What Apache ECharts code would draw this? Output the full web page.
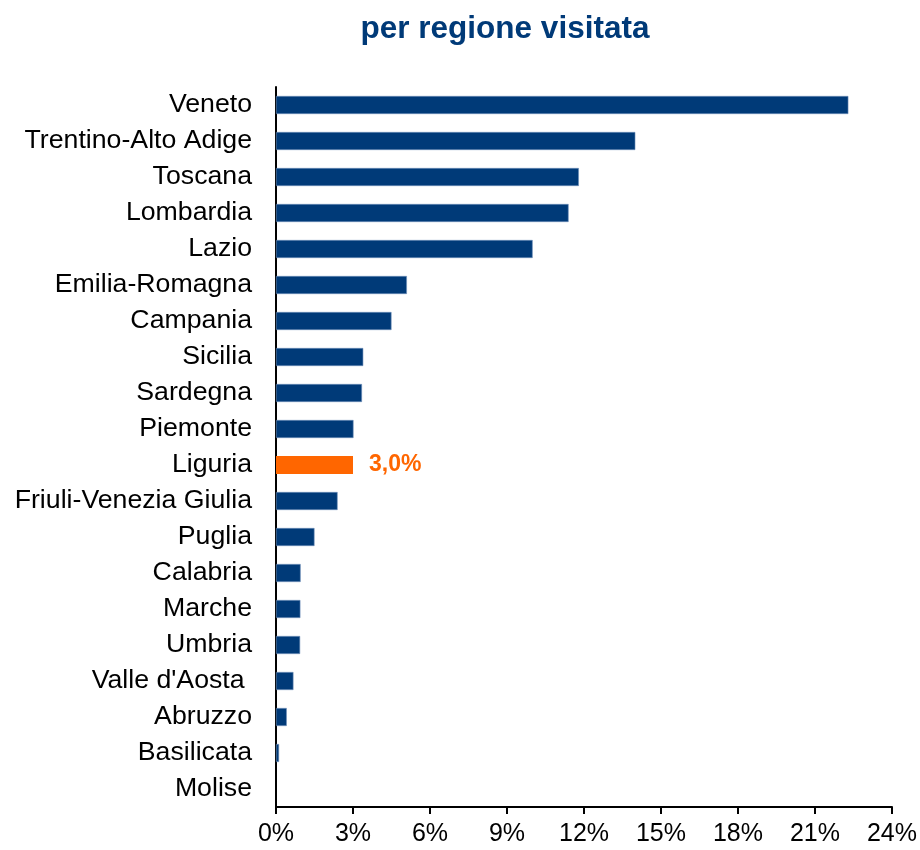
<!DOCTYPE html>
<html>
<head>
<meta charset="utf-8">
<script src="https://cdn.jsdelivr.net/npm/echarts@6/dist/echarts.min.js"></script>
<style>html,body{margin:0;padding:0;background:#fff}#c{width:920px;height:850px}</style>
</head>
<body>
<div id="c"></div>
<script>
const categories = ["Veneto","Trentino-Alto Adige","Toscana","Lombardia","Lazio","Emilia-Romagna","Campania","Sicilia","Sardegna","Piemonte","Liguria","Friuli-Venezia Giulia","Puglia","Calabria","Marche","Umbria","Valle d'Aosta ","Abruzzo","Basilicata","Molise"];
const values = [22.3,14.0,11.8,11.4,10.0,5.1,4.5,3.4,3.35,3.02,3.0,2.4,1.5,0.96,0.95,0.94,0.68,0.42,0.12,0];
const highlight = "Liguria";
const highlightLabel = "3,0%";
const xTicks = [0,3,6,9,12,15,18,21,24];

const NAVY = "#003A78", ORANGE = "#FF6600";
const chart = echarts.init(document.getElementById('c'), null, {renderer:'canvas'});
chart.setOption({
  animation:false,
  backgroundColor:'#fff',
  title:{text:'per regione visitata', left:500, textAlign:'center', top:8,
    textStyle:{fontFamily:'Liberation Sans', fontWeight:'bold', fontSize:31.5, color:'#003A78'}},
  grid:{left:276, right:28, top:87, bottom:43, containLabel:false},
  xAxis:{type:'value', min:xTicks[0], max:xTicks[xTicks.length-1], interval:3,
    axisLine:{show:true, lineStyle:{color:'#000', width:2}},
    axisTick:{show:true, length:7, lineStyle:{color:'#000', width:2}},
    splitLine:{show:false},
    axisLabel:{formatter:'{value}%', fontFamily:'Liberation Sans', fontSize:25, color:'#000', margin:15}},
  yAxis:{type:'category', data:categories, inverse:true,
    axisLine:{show:true, lineStyle:{color:'#000', width:2}},
    axisTick:{show:false},
    axisLabel:{fontFamily:'Liberation Sans', fontSize:26.7, color:'#000', margin:24, lineHeight:30, padding:[4,0,0,0]}},
  series:[{type:'bar', barWidth:18,
    data: values.map((v,i)=> categories[i]===highlight ? {
      value:v, itemStyle:{color:ORANGE, borderWidth:0},
      label:{show:true, position:'right', distance:16, formatter:highlightLabel, padding:[4,0,0,0],
        fontFamily:'Liberation Sans', fontWeight:'bold', fontSize:23, color:ORANGE}
    } : (v===0 ? {value:v, itemStyle:{borderWidth:0, opacity:0}} : {value:v})),
    itemStyle:{color:NAVY, borderColor:'#6F8FB8', borderWidth:0.6}
  }]
});
</script>
</body>
</html>
